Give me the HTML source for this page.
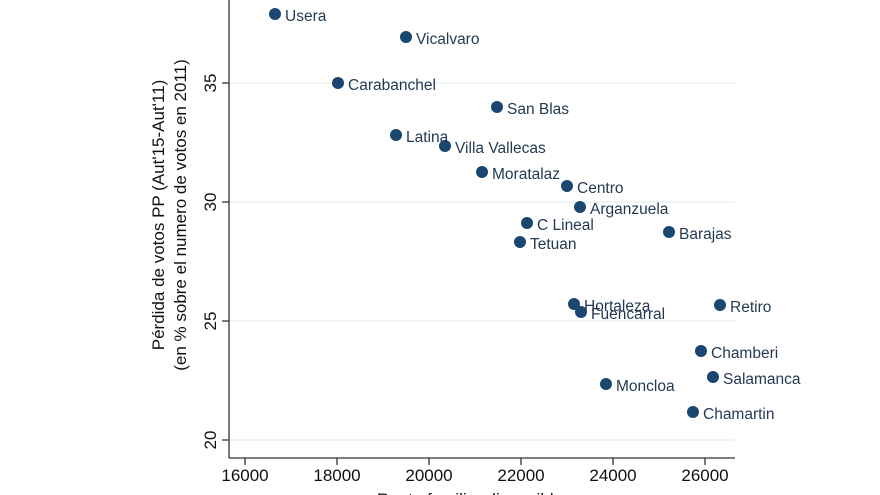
<!DOCTYPE html>
<html><head><meta charset="utf-8"><style>
html,body{margin:0;padding:0;background:#fff;}
svg{display:block;font-family:"Liberation Sans",sans-serif;}
</style></head><body>
<svg width="880" height="495" viewBox="0 0 880 495">
<g stroke="#e6eef2" stroke-width="1.2">
<line x1="230" x2="735" y1="83" y2="83"/>
<line x1="230" x2="735" y1="202" y2="202"/>
<line x1="230" x2="735" y1="321" y2="321"/>
<line x1="230" x2="735" y1="440" y2="440"/>
</g>
<g stroke="#333" stroke-width="1.3">
<line x1="229" y1="0" x2="229" y2="458"/>
<line x1="229" y1="458" x2="735" y2="458"/>
<line x1="222" x2="229" y1="83" y2="83"/>
<line x1="222" x2="229" y1="202" y2="202"/>
<line x1="222" x2="229" y1="321" y2="321"/>
<line x1="222" x2="229" y1="440" y2="440"/>
<line y1="458" y2="465" x1="245" x2="245"/>
<line y1="458" y2="465" x1="337" x2="337"/>
<line y1="458" y2="465" x1="429" x2="429"/>
<line y1="458" y2="465" x1="521" x2="521"/>
<line y1="458" y2="465" x1="613" x2="613"/>
<line y1="458" y2="465" x1="705" x2="705"/>
</g>
<g font-size="17" fill="#111" text-anchor="middle">
<text x="245" y="481">16000</text><text x="337" y="481">18000</text>
<text x="429" y="481">20000</text><text x="521" y="481">22000</text>
<text x="613" y="481">24000</text><text x="705" y="481">26000</text>
<text transform="translate(216,83) rotate(-90)">35</text>
<text transform="translate(216,202) rotate(-90)">30</text>
<text transform="translate(216,321) rotate(-90)">25</text>
<text transform="translate(216,440) rotate(-90)">20</text>
<text transform="translate(164,215) rotate(-90)">Pérdida de votos PP (Aut'15-Aut'11)</text>
<text transform="translate(186,215) rotate(-90)">(en % sobre el numero de votos en 2011)</text>
<text x="470" y="505">Renta familiar disponible</text>
</g>
<g fill="#1a476f">
<circle cx="275" cy="14" r="6"/><circle cx="406" cy="37" r="6"/><circle cx="338" cy="83" r="6"/>
<circle cx="497" cy="107" r="6"/><circle cx="396" cy="135" r="6"/><circle cx="445" cy="146" r="6"/>
<circle cx="482" cy="172" r="6"/><circle cx="567" cy="186" r="6"/><circle cx="580" cy="207" r="6"/>
<circle cx="527" cy="223" r="6"/><circle cx="520" cy="242" r="6"/><circle cx="669" cy="232" r="6"/>
<circle cx="574" cy="304" r="6"/><circle cx="581" cy="312" r="6"/><circle cx="720" cy="305" r="6"/>
<circle cx="701" cy="351" r="6"/><circle cx="713" cy="377" r="6"/><circle cx="606" cy="384" r="6"/>
<circle cx="693" cy="412" r="6"/>
</g>
<g font-size="15.5" fill="#243a52">
<text x="285" y="21">Usera</text><text x="416" y="44">Vicalvaro</text><text x="348" y="90">Carabanchel</text>
<text x="507" y="114">San Blas</text><text x="406" y="142">Latina</text><text x="455" y="153">Villa Vallecas</text>
<text x="492" y="179">Moratalaz</text><text x="577" y="193">Centro</text><text x="590" y="214">Arganzuela</text>
<text x="537" y="230">C Lineal</text><text x="530" y="249">Tetuan</text><text x="679" y="239">Barajas</text>
<text x="584" y="311">Hortaleza</text><text x="591" y="319">Fuencarral</text><text x="730" y="312">Retiro</text>
<text x="711" y="358">Chamberi</text><text x="723" y="384">Salamanca</text><text x="616" y="391">Moncloa</text>
<text x="703" y="419">Chamartin</text>
</g>
</svg>
</body></html>
